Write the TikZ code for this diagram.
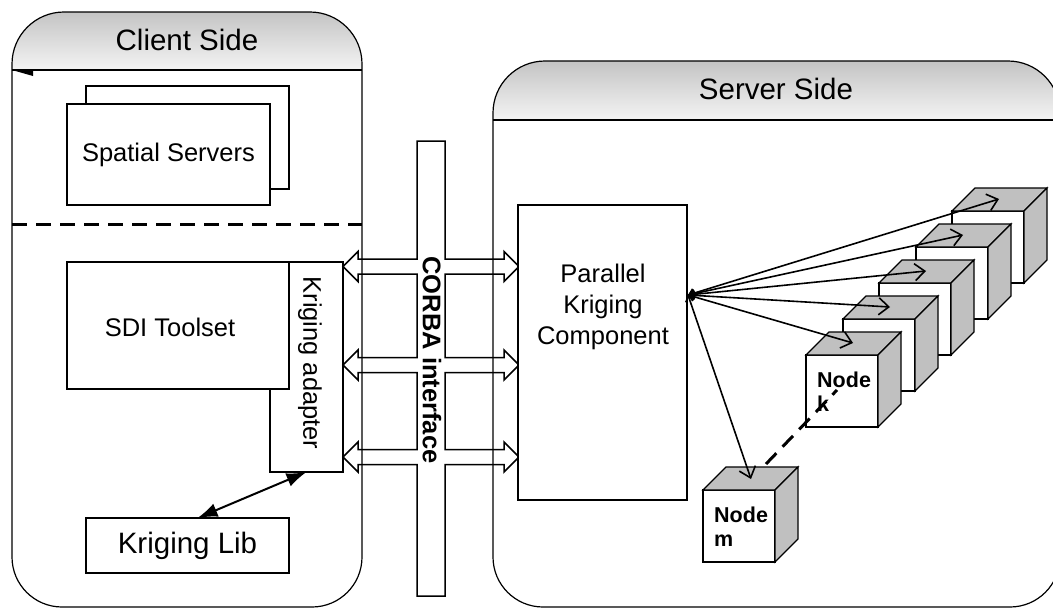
\documentclass[tikz,border=0pt]{standalone}
\usepackage{fontspec}
\setmainfont{Liberation Sans}
\usetikzlibrary{arrows.meta,calc}
\definecolor{cubegray}{HTML}{C0C0C0}
\definecolor{hdtop}{HTML}{C4C4C4}
\definecolor{hdbot}{HTML}{F4F4F4}
\newcommand\drawcube[2]{%
  \node[cubefront] (#1) at (#2) {};
  \draw[cubeside] (#1.north west) -- ++(23,-23) -- ++(72,0) -- (#1.north east) -- cycle;
  \draw[cubeside] (#1.north east) -- ++(23,-23) -- ++(0,72) -- (#1.south east) -- cycle;
}
\begin{document}
\begin{tikzpicture}[x=1pt,y=-1pt,
  outline/.style={draw, line width=1.2pt},
  box/.style={draw, fill=white, line width=1.4pt, inner sep=0pt, outer sep=0pt},
  txt/.style={font=\fontsize{25.5}{31}\selectfont, align=center},
  title/.style={font=\fontsize{29.5}{34}\selectfont},
  nodetxt/.style={font=\fontsize{21.5}{24}\selectfont\bfseries, align=left, inner sep=0pt, anchor=north west},
  cubefront/.style={draw, fill=white, line width=1.2pt, minimum width=72pt, minimum height=72pt, inner sep=0pt, outer sep=0pt},
  cubeside/.style={draw, fill=cubegray, line width=1.2pt, line join=miter},
  hubarrow/.style={line width=1.6pt, {Straight Barb[length=5pt,width=9pt]}-{Straight Barb[length=10pt,width=17pt]}},
  libarrow/.style={line width=2pt, {Latex[length=20pt,width=14pt]}-{Latex[length=20pt,width=14pt]}},
  thickdash/.style={line width=3pt, dash pattern=on 15pt off 9pt},
  corba/.style={draw, line width=1.5pt, line join=miter}
]
\useasboundingbox (0,0) rectangle (1053,608);

% ---------- Client side container ----------
\shade[top color=hdtop, bottom color=hdbot]
  (12,70) -- (12,64) .. controls (12,35.3) and (35.3,12) .. (64,12) -- (310,12)
  .. controls (338.7,12) and (362,35.3) .. (362,64) -- (362,70) -- cycle;
\draw[outline] (12,64) .. controls (12,35.3) and (35.3,12) .. (64,12) -- (310,12)
  .. controls (338.7,12) and (362,35.3) .. (362,64) -- (362,557)
  .. controls (362,584.6) and (339.6,607) .. (312,607) -- (62,607)
  .. controls (34.4,607) and (12,584.6) .. (12,557) -- cycle;
\draw[outline] (12,70) -- (362,70);
\fill (12,70) -- (33,69) -- (33,76) -- cycle;
\node[title] (cltitle) at (187,40) {Client Side};

% ---------- Server side container ----------
\shade[top color=hdtop, bottom color=hdbot]
  (493,120) -- (493,113) .. controls (493,84.3) and (516.3,61) .. (545,61) -- (1008,61)
  .. controls (1036.7,61) and (1060,84.3) .. (1060,113) -- (1060,120) -- cycle;
\draw[outline] (493,113) .. controls (493,84.3) and (516.3,61) .. (545,61) -- (1008,61)
  .. controls (1036.7,61) and (1060,84.3) .. (1060,113) -- (1060,557)
  .. controls (1060,584.6) and (1037.6,607) .. (1010,607) -- (543,607)
  .. controls (515.4,607) and (493,584.6) .. (493,557) -- cycle;
\draw[outline] (493,120) -- (1060,120);
\node[title] (svtitle) at (776,89) {Server Side};

% ---------- Spatial servers ----------
\node[box, minimum width=203pt, minimum height=103pt] (ssback) at (187.5,137.5) {};
\node[box, txt, minimum width=203pt, minimum height=101pt] (ss) at (168.5,154.5) {Spatial Servers};

% dashed separator
\draw[thickdash] (12,224) -- (362,224);

% ---------- SDI toolset and adapter ----------
\node[box, minimum width=73pt, minimum height=210pt] (adapt) at (306.5,367) {};
\node[txt, rotate=-90] (adapttxt) at (310,363) {Kriging adapter};
\node[box, minimum width=222pt, minimum height=127pt] (sdi) at (178,325.5) {};
\node[txt] (sditxt) at (170,327) {SDI Toolset};

% ---------- Kriging Lib ----------
\node[box, title, minimum width=203pt, minimum height=55pt] (klib) at (187.5,545.5) {Kriging Lib};
\draw[libarrow] ([xshift=10pt]klib.north) -- (adapt.south);

% ---------- CORBA interface ----------
\draw[corba] (417,141) -- (445,141)
 -- (445,259) -- (504,259) -- (504,251.5) -- (519,266.5) -- (504,281.5) -- (504,274) -- (445,274)
 -- (445,357.5) -- (504,357.5) -- (504,350) -- (519,365) -- (504,380) -- (504,372.5) -- (445,372.5)
 -- (445,449.5) -- (504,449.5) -- (504,442) -- (519,457) -- (504,472) -- (504,464.5) -- (445,464.5)
 -- (445,596) -- (417,596)
 -- (417,464.5) -- (358,464.5) -- (358,472) -- (343,457) -- (358,442) -- (358,449.5) -- (417,449.5)
 -- (417,372.5) -- (358,372.5) -- (358,380) -- (343,365) -- (358,350) -- (358,357.5) -- (417,357.5)
 -- (417,274) -- (358,274) -- (358,281.5) -- (343,266.5) -- (358,251.5) -- (358,259) -- (417,259)
 -- cycle;
\node[txt, font=\fontsize{25.5}{31}\selectfont\bfseries, rotate=-90] (corbatxt) at (432,360) {CORBA interface};

% ---------- Parallel Kriging Component ----------
\node[box, minimum width=169pt, minimum height=295pt] (pkc) at (602.5,352.5) {};
\node[txt] (pkctxt) at (603,307) {Parallel\\Kriging\\Component};

% ---------- Cubes ----------
\drawcube{c5}{988,247}
\drawcube{c4}{952,283}
\drawcube{c3}{915,319}
\drawcube{c2}{879,355}
\drawcube{c1}{842,391}
\node[nodetxt] (c1txt) at ($(c1.north west)+(11,17)$) {Node\\k};
\drawcube{cm}{739,526}
\node[nodetxt] (cmtxt) at ($(cm.north west)+(11,17)$) {Node\\m};

% dashed link between node m and node k
\draw[thickdash] ($(cm.north west)+(63,-26)$) -- ($(c1.north west)+(31,35)$);

% ---------- Hub arrows ----------
\coordinate (hub) at (688,295);
\foreach \c in {c5,c4,c3,c2,c1}
  \draw[hubarrow] (hub) -- ($(\c.north west)+(47,-12)$);
\draw[hubarrow] (hub) -- ($(cm.north west)+(48,-11)$);
\end{tikzpicture}
\end{document}
